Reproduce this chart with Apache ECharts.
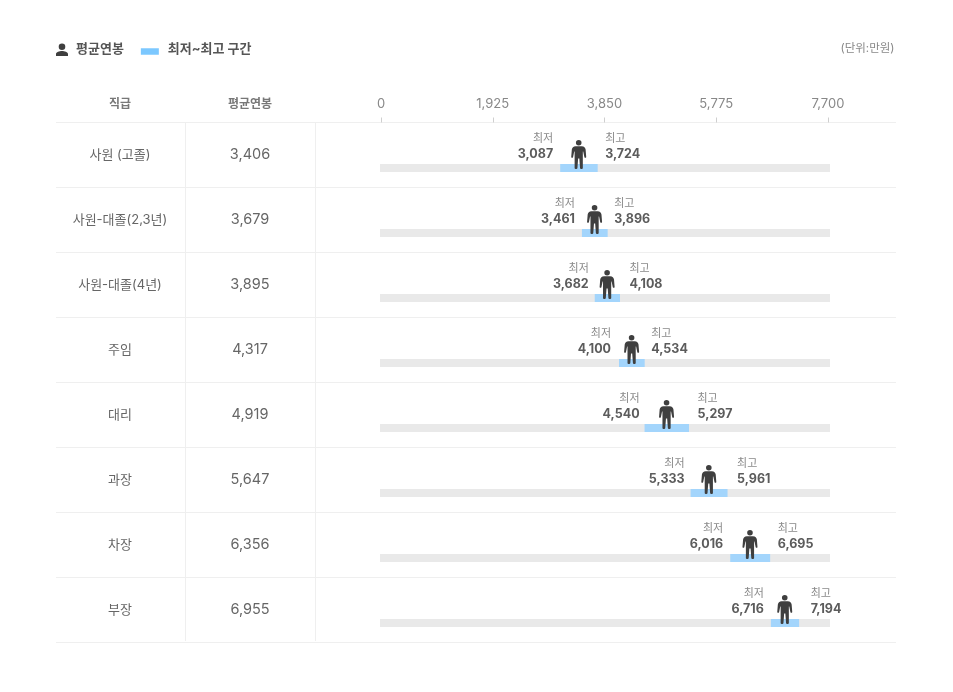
<!DOCTYPE html>
<html>
<head>
<meta charset="utf-8">
<title>직급별 평균연봉</title>
<script src="https://cdn.jsdelivr.net/npm/echarts@6/dist/echarts.min.js"></script>
<style>
html,body{margin:0;padding:0;background:#fff;}
#main{width:953px;height:692px;}
</style>
</head>
<body>
<div id="main"></div>
<script>
// 데이터
var ranks = ['사원 (고졸)', '사원-대졸(2,3년)', '사원-대졸(4년)', '주임', '대리', '과장', '차장', '부장'];
var avgPay = [3406, 3679, 3895, 4317, 4919, 5647, 6356, 6955];
var minPay = [3087, 3461, 3682, 4100, 4540, 5333, 6016, 6716];
var maxPay = [3724, 3896, 4108, 4534, 5297, 5961, 6695, 7194];
// 라벨 미세조정(px)
var minLabelNudge = [0, 0, 1, -1, 2, 1, 0, 0];
var maxLabelNudge = [0, -1, 2, -1, 1, 2, 0, 4];

var FONT = 'Inter, "Noto Sans CJK KR", sans-serif';
var PERSON = 'M7.5 0a2.8 2.8 0 1 1 0 5.6a2.8 2.8 0 1 1 0-5.6z' +
  'M4.5 6.2H10.5C13 6.2 14 7.5 14.4 9.5L15 17C15 18 13.5 18.2 13.2 17.2L12 11.5L11.6 11.5L11.6 28C11.6 29.3 8.9 29.3 8.8 28L8.1 18.5H6.9L6.2 28C6.1 29.3 3.4 29.3 3.4 28L3.4 11.5L3 11.5L1.8 17.2C1.5 18.2 0 18 0 17L0.6 9.5C1 7.5 2 6.2 4.5 6.2Z';
var BUST = 'M0 0L0 0M6 1.4a3.3 3.3 0 1 1 0 6.6a3.3 3.3 0 1 1 0-6.6zM0 14V12C0 10 3.5 9 6 9C8.5 9 12 10 12 12V14Z';

function fmt(v) { return echarts.format.addCommas(v); }

function renderRange(params, api) {
  var i = api.value(0);
  var rowY = api.coord([0, i])[1];
  var x0 = api.coord([0, i])[0];
  var x1 = api.coord([7700, i])[0];
  var lo = api.coord([api.value(1), i])[0];
  var hi = api.coord([api.value(2), i])[0];
  var top = rowY + 9;
  var labelL = lo - 7 + minLabelNudge[i], labelR = hi + 8 + maxLabelNudge[i];
  function label(text, x, y, align, size, weight, color) {
    return {type: 'text', style: {text: text, x: x, y: y, align: align, verticalAlign: 'middle',
      font: weight + ' ' + size + 'px ' + FONT, fill: color}};
  }
  return {type: 'group', children: [
    {type: 'rect', shape: {x: x0 - 1, y: top, width: x1 - x0 + 3, height: 8}, style: {fill: '#e9e9e9'}},
    {type: 'rect', shape: {x: lo, y: top, width: hi - lo + 0.5, height: 8}, style: {fill: '#a3d5fc'}},
    label('최저', labelL, rowY - 16, 'right', 11, 'normal', '#8a8a8a'),
    label(fmt(api.value(1)), labelL, rowY - 0.5, 'right', 12.5, 'bold', '#5c5c5c'),
    label('최고', labelR, rowY - 16, 'left', 11, 'normal', '#8a8a8a'),
    label(fmt(api.value(2)), labelR, rowY - 0.5, 'left', 12.5, 'bold', '#5c5c5c')
  ]};
}

function renderPerson(params, api) {
  var p = api.coord([api.value(1), api.value(0)]);
  return {type: 'path', shape: {pathData: PERSON, x: p[0] - 7.5, y: p[1] - 15, width: 15, height: 29},
    style: {fill: '#3f3f3f'}};
}

function headText(text, x, y, align, size, weight, color) {
  return {type: 'text', x: x, y: y, style: {text: text, align: align, verticalAlign: 'middle',
    font: weight + ' ' + size + 'px ' + FONT, fill: color}};
}
function colLine(x) {
  return {type: 'line', shape: {x1: x, y1: 123, x2: x, y2: 641}, style: {stroke: '#efefef', lineWidth: 1}};
}

var myChart = echarts.init(document.getElementById('main'));
myChart.setOption({
  animation: false,
  backgroundColor: '#fff',
  textStyle: {fontFamily: FONT},
  legend: {
    left: 51, top: 37, itemWidth: 18, itemHeight: 14, itemGap: 17, selectedMode: false,
    textStyle: {fontFamily: FONT, fontSize: 13, fontWeight: 'bold', color: '#555555'},
    data: [
      {name: '평균연봉', icon: 'path://' + BUST, itemStyle: {color: '#3f3f3f'}},
      {name: '최저~최고 구간', icon: 'path://M0 0L0 0M0 5H18V11.5H0Z', itemStyle: {color: '#7cc8ff'},
        textStyle: {padding: [0, 0, 0, 4]}}
    ]
  },
  grid: [
    {left: 56, top: 122.5, width: 840, height: 520},
    {left: 381, top: 122.5, width: 447, height: 520}
  ],
  xAxis: [
    {gridIndex: 0, type: 'value', show: false, min: 0, max: 1},
    {gridIndex: 1, type: 'value', position: 'top', min: 0, max: 7700, interval: 1925,
      axisLine: {show: false},
      axisTick: {show: true, length: 5, lineStyle: {color: '#cfcfcf'}},
      axisLabel: {margin: 12, fontSize: 13, color: '#888888', fontFamily: FONT,
        showMinLabel: true, showMaxLabel: true,
        formatter: function (v) { return fmt(v); }},
      splitLine: {show: false}}
  ],
  yAxis: [
    {gridIndex: 0, type: 'category', inverse: true, data: ranks,
      axisLine: {show: false}, axisTick: {show: false}, axisLabel: {show: false},
      splitLine: {show: true, lineStyle: {color: '#efefef', width: 1}}},
    {gridIndex: 1, type: 'category', inverse: true, data: ranks,
      axisLine: {show: false}, axisTick: {show: false},
      axisLabel: {margin: 261, align: 'center', fontSize: 13, lineHeight: 13, padding: [0, 0, 2, 0], color: '#666666', fontFamily: FONT}},
    {gridIndex: 1, type: 'category', inverse: true, position: 'left', data: avgPay.map(fmt),
      axisLine: {show: false}, axisTick: {show: false},
      axisLabel: {margin: 131, align: 'center', fontSize: 14.5, padding: [0, 0, 3, 0], color: '#666666', fontFamily: FONT}}
  ],
  series: [
    {name: '최저~최고 구간', type: 'custom', xAxisIndex: 1, yAxisIndex: 1, clip: false, renderItem: renderRange,
      data: ranks.map(function (r, i) { return [i, minPay[i], maxPay[i]]; })},
    {name: '평균연봉', type: 'custom', xAxisIndex: 1, yAxisIndex: 1, clip: false, z: 5, renderItem: renderPerson,
      data: ranks.map(function (r, i) { return [i, avgPay[i]]; })}
  ],
  graphic: [
    headText('(단위:만원)', 894.5, 49, 'right', 11.5, 'normal', '#888888'),
    headText('직급', 120, 104, 'center', 12, 'bold', '#777777'),
    headText('평균연봉', 250, 104, 'center', 12, 'bold', '#777777'),
    colLine(185.5),
    colLine(315.5)
  ]
});
</script>
</body>
</html>
